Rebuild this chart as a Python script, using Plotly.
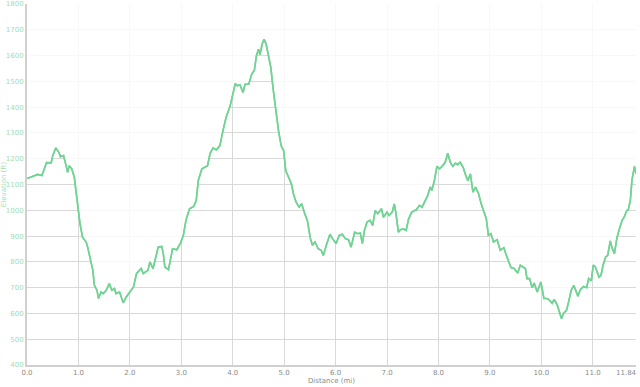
import plotly.graph_objects as go

distance_mi = [
    0.00, 0.11, 0.21, 0.29, 0.34, 0.38, 0.47, 0.50, 0.56, 0.62, 0.65, 0.71, 0.75, 0.79, 0.82, 0.87,
    0.92, 0.95, 0.99, 1.03, 1.08, 1.15, 1.18, 1.23, 1.28, 1.31, 1.36, 1.39, 1.44, 1.48, 1.54, 1.60,
    1.65, 1.70, 1.73, 1.80, 1.87, 1.93, 1.99, 2.07, 2.13, 2.22, 2.26, 2.35,
    2.39, 2.45, 2.49, 2.55, 2.62, 2.65, 2.68, 2.75, 2.80, 2.83, 2.91, 2.98, 3.04, 3.09, 3.16, 3.24,
    3.29, 3.33, 3.40, 3.46, 3.51, 3.56, 3.62, 3.68, 3.75, 3.81, 3.87, 3.95, 4.00, 4.05, 4.09, 4.14,
    4.20, 4.24, 4.31, 4.37, 4.42, 4.46, 4.50, 4.53, 4.57, 4.61, 4.65, 4.69, 4.74, 4.79,
    4.82, 4.89, 4.94, 4.99, 5.03, 5.08, 5.14, 5.18, 5.23, 5.29, 5.34, 5.40, 5.45, 5.51, 5.55, 5.60,
    5.66, 5.72, 5.76, 5.83, 5.89, 5.94, 6.01, 6.07, 6.13, 6.19, 6.25, 6.30, 6.37, 6.43, 6.48, 6.52,
    6.56, 6.61, 6.67, 6.72, 6.77, 6.82, 6.89, 6.93, 7.00, 7.04, 7.10, 7.14, 7.17, 7.22,
    7.26, 7.32, 7.37, 7.42, 7.48, 7.57, 7.63, 7.68, 7.74, 7.79, 7.84, 7.87, 7.92, 7.97, 8.02, 8.07,
    8.13, 8.18, 8.23, 8.28, 8.33, 8.37, 8.42, 8.48, 8.52, 8.57, 8.62, 8.67, 8.72, 8.78, 8.83, 8.88,
    8.93, 8.97, 9.02, 9.07, 9.14, 9.20, 9.27, 9.32, 9.36, 9.41, 9.47, 9.54,
    9.59, 9.64, 9.69, 9.72, 9.77, 9.82, 9.86, 9.92, 9.95, 9.99, 10.05, 10.11, 10.16, 10.21, 10.25,
    10.31, 10.36, 10.39, 10.43, 10.49, 10.53, 10.58, 10.63, 10.66, 10.71, 10.76, 10.82, 10.88,
    10.92, 10.97, 11.01, 11.05, 11.12, 11.16, 11.20, 11.25, 11.29, 11.34, 11.37, 11.42, 11.47,
    11.52, 11.57, 11.61, 11.66, 11.69, 11.73, 11.76, 11.81, 11.84,
]

elevation_ft = [
    1123, 1131, 1139, 1135, 1167, 1185, 1184, 1212, 1242, 1225, 1208, 1212, 1181, 1147, 1173, 1161,
    1128, 1077, 1012, 948, 896, 877, 857, 813, 767, 709, 690, 658, 683, 677, 690, 716,
    690, 697, 677, 683, 641, 664, 683, 703, 755, 774, 755, 767,
    800, 774, 806, 857, 860, 832, 780, 770, 819, 851, 847, 871, 903, 961, 1006, 1015,
    1038, 1115, 1161, 1167, 1173, 1221, 1242, 1234, 1251, 1309, 1360, 1405, 1451, 1492, 1483, 1487,
    1457, 1489, 1489, 1528, 1543, 1599, 1625, 1603, 1644, 1663, 1644, 1608, 1554, 1463,
    1415, 1309, 1251, 1231, 1154, 1128, 1103, 1064, 1032, 1012, 1025, 987, 961, 890, 864, 877,
    851, 845, 825, 871, 907, 890, 871, 903, 907, 890, 886, 857, 915, 909, 912, 871,
    922, 954, 961, 941, 999, 987, 1006, 973, 993, 980, 993, 1025, 993, 915,
    925, 928, 922, 967, 993, 1002, 1019, 1012, 1038, 1057, 1090, 1077, 1115, 1170, 1161, 1170,
    1186, 1221, 1186, 1170, 1183, 1177, 1186, 1167, 1141, 1115, 1141, 1070, 1090, 1064, 1025, 999,
    967, 903, 909, 877, 886, 845, 855, 825, 803, 778, 774, 757,
    787, 780, 774, 735, 735, 700, 718, 683, 697, 722, 658, 658, 651, 639, 654,
    632, 600, 580, 600, 613, 645, 690, 709, 690, 667, 693, 705, 700,
    735, 726, 787, 780, 741, 748, 787, 819, 825, 881, 857, 832, 894,
    929, 961, 973, 999, 1002, 1038, 1115, 1170, 1141,
]

x_tick_vals = [0, 1, 2, 3, 4, 5, 6, 7, 8, 9, 10, 11, 11.84]
x_tick_text = ["0.0", "1.0", "2.0", "3.0", "4.0", "5.0", "6.0", "7.0", "8.0", "9.0", "10.0", "11.0", ""]
x_end_value = 11.84
x_end_label = "11.84"
y_min, y_max = 400, 1800

line_color = "#72d394"
x_label_color = "#8a8a8a"
y_label_color = "#a3dcb2"
fig = go.Figure()

fig.add_trace(go.Scatter(
    x=distance_mi, y=elevation_ft, mode="lines",
    line=dict(color=line_color, width=1.6), hoverinfo="skip", showlegend=False,
))
# fade the grid above the curve
fig.add_trace(go.Scatter(
    x=distance_mi, y=[y_max] * len(distance_mi), mode="lines",
    line=dict(width=0), fill="tonexty", fillcolor="rgba(255,255,255,0.8)",
    hoverinfo="skip", showlegend=False,
))
fig.add_trace(go.Scatter(
    x=distance_mi, y=elevation_ft, mode="lines",
    line=dict(color=line_color, width=1.6), hoverinfo="skip", showlegend=False,
))

# end-of-track distance label, right-aligned so it stays inside the page
fig.add_annotation(
    x=x_end_value, y=0, xref="x", yref="paper", text=x_end_label,
    showarrow=False, xanchor="right", yanchor="top", xshift=3, yshift=-2,
    font=dict(color=x_label_color, size=7),
)

font_family = "DejaVu Sans"
fig.update_layout(
    width=640, height=387,
    margin=dict(l=27, r=4, t=4, b=22),
    paper_bgcolor="white", plot_bgcolor="white",
    font=dict(family=font_family, size=7),
    xaxis=dict(
        range=[0, x_end_value], tickvals=x_tick_vals, ticktext=x_tick_text,
        showgrid=True, gridcolor="#d9d9d9", gridwidth=1,
        showline=True, linecolor="#d0d0d0", linewidth=2,
        zeroline=False, ticks="", tickfont=dict(color=x_label_color, size=7),
        ticklabeloverflow="allow",
        title=dict(text="Distance (mi)", font=dict(color=x_label_color, size=7), standoff=2),
        automargin=False,
    ),
    yaxis=dict(
        range=[y_min, y_max], dtick=100,
        showgrid=True, gridcolor="#d9d9d9", gridwidth=1,
        showline=True, linecolor="#d0d0d0", linewidth=2,
        zeroline=False, ticks="", tickfont=dict(color=y_label_color, size=7),
        ticklabeloverflow="allow",
        title=dict(text="Elevation (ft)", font=dict(color=y_label_color, size=7), standoff=2),
        automargin=False,
    ),
)

fig.write_html("out.html")
